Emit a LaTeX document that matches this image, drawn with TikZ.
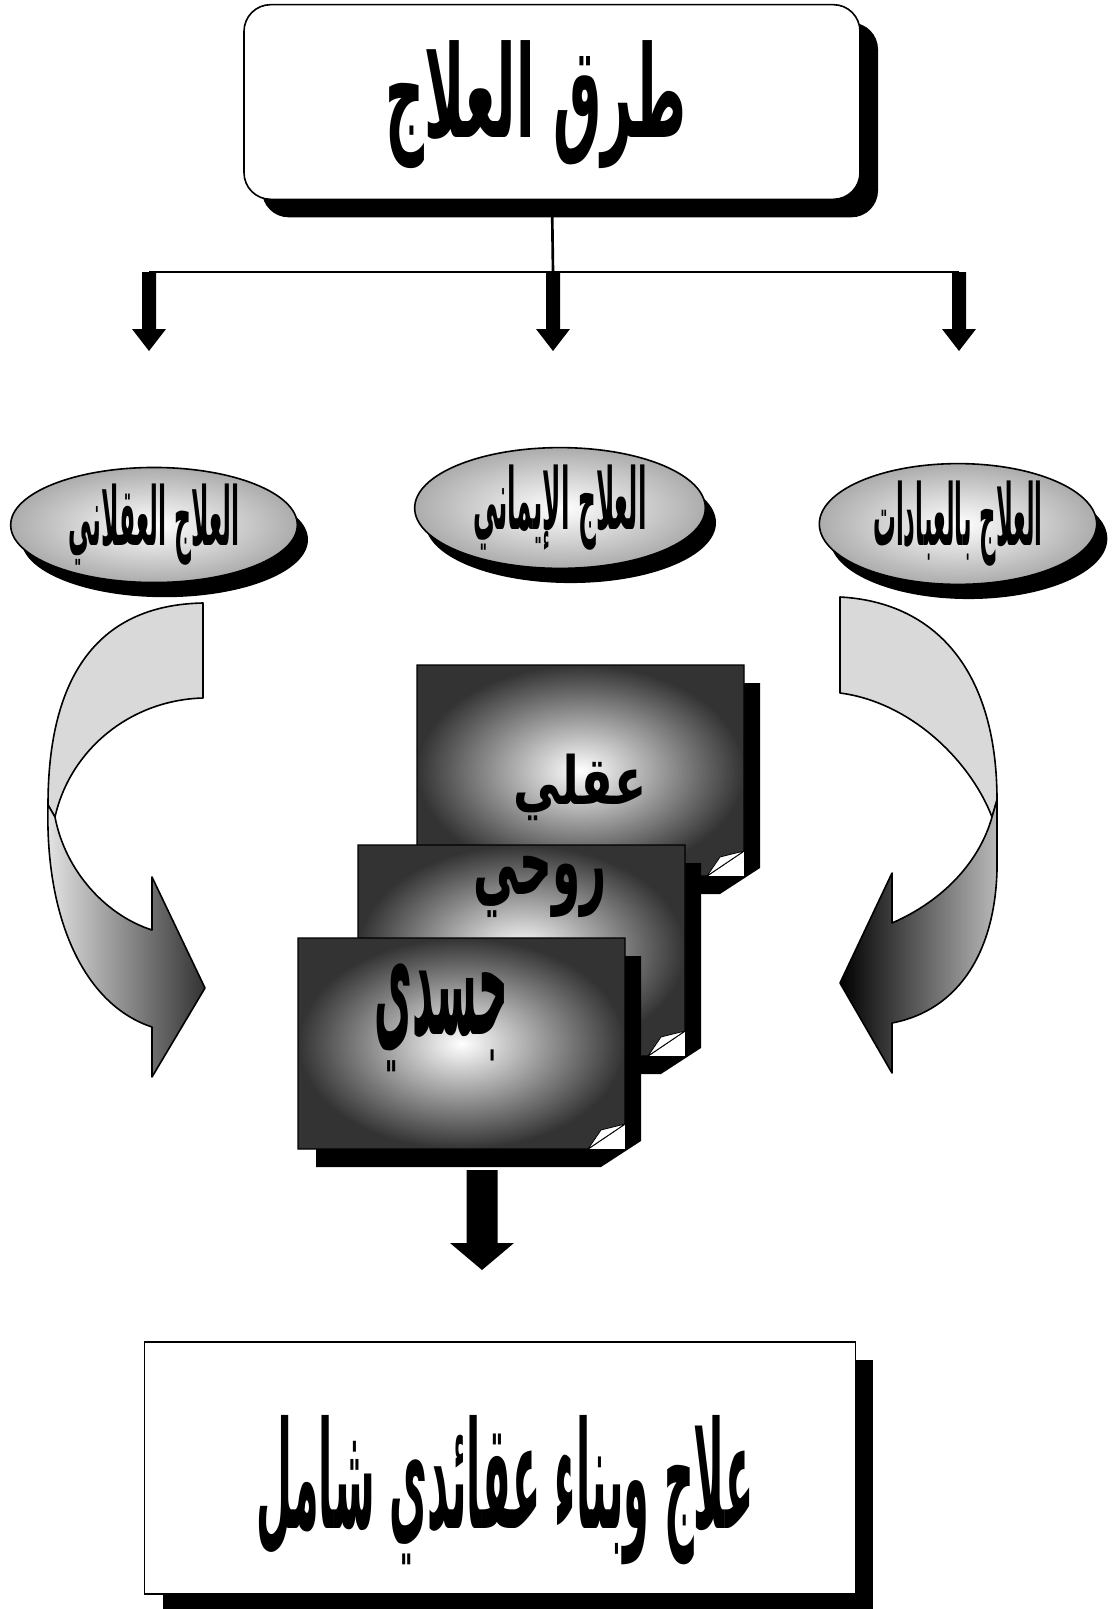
\documentclass[tikz,border=0pt]{standalone}
\usepackage{fontspec}
\usepackage{graphicx}
\usetikzlibrary{shapes.geometric,shadows}
\newfontfamily\arabicfont[Script=Arabic]{DejaVu Sans}
\TeXXeTstate=1
\newcommand{\artext}[3]{\resizebox*{#1}{#2}{\arabicfont\bfseries #3}}

\tikzset{
  boxshadow/.style={general shadow={fill=black, shadow xshift=13.5pt, shadow yshift=-13.5pt}},
  oval/.style={ellipse, draw=black, line width=1.2pt, inner sep=0pt, shading=radial,
    inner color=white, outer color=gray!65,
    general shadow={fill=black, shadow xshift=8pt, shadow yshift=-11pt}},
  ribbon/.style={draw=black, line width=1.2pt, line join=round},
  pics/downarr/.style={code={
    \fill (-7,0) -- (-7,57) -- (-17,57) -- (0,79) -- (17,57) -- (7,57) -- (7,0) -- cycle;
  }},
  pics/bigdownarr/.style={code={
    \fill (-15.5,0) -- (-15.5,73) -- (-32,73) -- (0,100) -- (32,73) -- (15.5,73) -- (15.5,0) -- cycle;
  }},
  pics/sheet/.style={code={
    \fill[black] (327,18) -- (343,18) -- (343,203) -- (303,229) -- (18,229) -- (18,211) -- (327,211) -- cycle;
    \shade[draw=black, line width=0.8pt, inner color=white, outer color=black!80]
      (0,0) -- (327,0) -- (327,186) -- (290,211) -- (0,211) -- cycle;
    \filldraw[fill=white, line width=0.6pt] (327,186) -- (290,211) -- (303,192) -- cycle;
  }}
}

\begin{document}
\begin{tikzpicture}[x=0.75pt,y=-0.75pt]
\useasboundingbox (0,0) rectangle (1116,1609);

% title box
\node[draw, line width=1.2pt, rounded corners=20pt, fill=white, boxshadow,
  minimum width=462pt, minimum height=146pt, inner sep=0pt] (title) at (552,102) {};
\node (titletxt) at (536,105) {\artext{226pt}{96pt}{\beginR طرق العلاج\endR}};

% branches
\coordinate (jn) at (553,272);
\coordinate (jl) at (149,272);
\coordinate (jr) at (959,272);
\draw[line width=2pt] (title.south) -- (jn);
\draw[line width=2pt] (jl) -- (jr);
\pic at (jl) {downarr};
\pic at (jn) {downarr};
\pic at (jr) {downarr};

% the three ways
\node[oval, minimum width=215pt, minimum height=82.5pt] (aqlani) at (154,525)
  {\artext{128pt}{61pt}{\beginR العلاج العقلاني\endR}};
\node[oval, minimum width=218pt, minimum height=74pt] (imani) at (560,508)
  {\artext{130pt}{64pt}{\beginR العلاج الإيماني\endR}};
\node[oval, minimum width=208pt, minimum height=78pt] (ibadat) at (958,524)
  {\artext{127pt}{64pt}{\beginR العلاج بالعبادات\endR}};

% curved arrows
\path[ribbon, fill=gray!30] (203,603) .. controls (95,605) and (48,680) .. (48,805)
  -- (55,817) .. controls (70,750) and (130,700) .. (203,698) -- cycle;
\path[ribbon, left color=gray!20, right color=black!80] (48,805)
  .. controls (45,920) and (85,1005) .. (152,1027) -- (152,1077) -- (205,988)
  -- (152,877) -- (152,930) .. controls (105,915) and (65,870) .. (55,817) -- cycle;

\path[ribbon, fill=gray!30] (840,597) .. controls (935,602) and (997,670) .. (997,800)
  -- (992,817) .. controls (970,760) and (910,702) .. (840,693) -- cycle;
\path[ribbon, left color=black, right color=gray!55] (997,800) -- (997,870)
  .. controls (995,950) and (960,1010) .. (892,1023) -- (892,1073) -- (840,983)
  -- (892,873) -- (892,923) .. controls (945,900) and (980,860) .. (992,817) -- cycle;

% sheets
\pic at (417,665) {sheet};
\pic at (358,845) {sheet};
\pic at (298,938) {sheet};
\node (aqli) at (580,787) {\artext{100pt}{50pt}{\beginR عقلي\endR}};
\node (ruhi) at (540,887) {\artext{100pt}{46pt}{\beginR روحي\endR}};
\node (jasadi) at (441,1018) {\artext{100pt}{81pt}{\beginR جسدي\endR}};

\coordinate (pagesout) at (482,1170);
\pic at (pagesout) {bigdownarr};

% result box
\node[draw, line width=1.2pt, fill=white, boxshadow,
  minimum width=533pt, minimum height=189pt, inner sep=0pt] (result) at (500,1468) {};
\node (resulttxt) at (505,1490) {\artext{373pt}{112pt}{\beginR علاج وبناء عقائدي شامل\endR}};
\end{tikzpicture}
\end{document}
